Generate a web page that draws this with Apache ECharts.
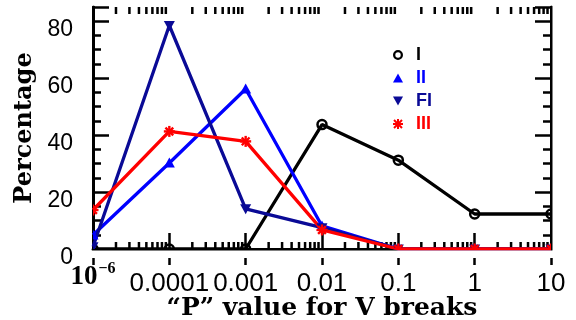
<!DOCTYPE html>
<html><head><meta charset="utf-8">
<script src="https://cdn.jsdelivr.net/npm/echarts@6/dist/echarts.min.js"></script>
<style>html,body{margin:0;padding:0;background:#fff}#c{width:576px;height:320px}</style>
</head><body><div id="c"></div>
<script>
const categories = ['1e-6', '0.0001', '0.001', '0.01', '0.1', '1', '10'];
const tickLabels = ['10^-6', '0.0001', '0.001', '0.01', '0.1', '1', '10'];
const yTicks = [0, 20, 40, 60, 80];
const seriesNames = ['I', 'II', 'FI', 'III'];
const seriesI = [0, 0, 0, 43.7, 31.2, 12.3, 12.3];
const seriesII = [4.9, 30.2, 56.2, 8.1, 0, 0, 0];
const seriesFI = [0.8, 78.5, 14.1, 7.5, 0, 0, 0];
const seriesIII = [13.7, 41.3, 37.8, 6.7, 0, 0, 0];
const colors = ['#000000', '#0000ff', '#0a0a96', '#ff0000'];
const YMAX = 85;

const allData = [seriesI, seriesII, seriesFI, seriesIII];
const shapes = ['circle', 'up', 'down', 'star'];
const legendIcons = [
  'path://M5,0A5,5 0 1,1 4.99,0Z M5,2.3A2.7,2.7 0 1,0 5.01,2.3Z',
  'path://M5,0L10,9L0,9Z',
  'path://M0,0L10,0L5,9Z',
  'path://M0,4L10,4L10,6L0,6Z M4,0L6,0L6,10L4,10Z M1.7,0.3L9.7,8.3L8.3,9.7L0.3,1.7Z M8.3,0.3L9.7,1.7L1.7,9.7L0.3,8.3Z'];

// minor (log) tick positions within each decade between category points
const minorX = [];
for (let i = 0; i < categories.length - 1; i++) {
  for (let k = 2; k <= 9; k++) minorX.push([i + Math.log10(k)]);
}

const chart = echarts.init(document.getElementById('c'), null, {renderer: 'canvas'});

function markerItem(shape, color) {
  return function (params, api) {
    const p = api.coord([api.value(0), api.value(1)]);
    const x = p[0], y = p[1];
    if (shape === 'circle') {
      return {type: 'circle', shape: {cx: x, cy: y, r: 4.5},
        style: {fill: 'none', stroke: color, lineWidth: 2.5}};
    }
    if (shape === 'up') {
      return {type: 'polygon', shape: {points: [[x, y - 5.5], [x + 5.5, y + 4.5], [x - 5.5, y + 4.5]]},
        style: {fill: color}};
    }
    if (shape === 'down') {
      return {type: 'polygon', shape: {points: [[x, y + 5.5], [x + 5.5, y - 4.5], [x - 5.5, y - 4.5]]},
        style: {fill: color}};
    }
    const r = 5.5, lines = [];
    for (let a = 0; a < 4; a++) {
      const t = a * Math.PI / 4;
      lines.push({type: 'line', shape: {x1: x - r * Math.cos(t), y1: y - r * Math.sin(t), x2: x + r * Math.cos(t), y2: y + r * Math.sin(t)},
        style: {stroke: color, lineWidth: 2.4}});
    }
    return {type: 'group', children: lines};
  };
}

const series = [];
seriesNames.forEach((n, si) => {
  series.push({
    name: n, type: 'line', xAxisIndex: 0, yAxisIndex: 0,
    data: allData[si].map((v, i) => [i, v]),
    symbol: 'none', lineStyle: {color: colors[si], width: 3.3},
    itemStyle: {color: colors[si]}, z: 2 + si, animation: false
  });
});
seriesNames.forEach((n, si) => {
  series.push({
    name: n, type: 'custom', xAxisIndex: 0, yAxisIndex: 0, clip: true,
    data: allData[si].map((v, i) => [i, v]),
    renderItem: markerItem(shapes[si], colors[si]),
    itemStyle: {color: colors[si]}, z: 10 + si, animation: false
  });
});
// minor log ticks on bottom and top frame
series.push({
  type: 'custom', xAxisIndex: 0, yAxisIndex: 0, clip: false, silent: true,
  data: minorX, encode: {x: 0}, z: 1, animation: false,
  renderItem: function (params, api) {
    const b = api.coord([api.value(0), 0]);
    const t = api.coord([api.value(0), YMAX]);
    return {type: 'group', children: [
      {type: 'line', shape: {x1: b[0], y1: b[1], x2: b[0], y2: b[1] - 7}, style: {stroke: '#000', lineWidth: 2.5}},
      {type: 'line', shape: {x1: t[0], y1: t[1], x2: t[0], y2: t[1] + 7}, style: {stroke: '#000', lineWidth: 2.5}}
    ]};
  }
});
// mask marker parts lying outside the plot frame
series.push({
  type: 'custom', xAxisIndex: 0, yAxisIndex: 0, clip: false, silent: true,
  data: [[0]], encode: {x: 0}, z: 30, animation: false,
  renderItem: function (params, api) {
    const cs = params.coordSys;
    const w = 1.5, m = 9;
    const st = {fill: '#fff'};
    return {type: 'group', children: [
      {type: 'rect', shape: {x: cs.x - m, y: cs.y + cs.height + w, width: cs.width + 2 * m, height: m - w}, style: st},
      {type: 'rect', shape: {x: cs.x - m, y: cs.y - m, width: cs.width + 2 * m, height: m - w}, style: st},
      {type: 'rect', shape: {x: cs.x - m, y: cs.y - m, width: m - w, height: cs.height + 2 * m}, style: st},
      {type: 'rect', shape: {x: cs.x + cs.width + w, y: cs.y - m, width: m - w, height: cs.height + 2 * m}, style: st}
    ]};
  }
});

const axisLine = {show: true, lineStyle: {color: '#000', width: 3}};
const yBase = {type: 'value', min: 0, max: YMAX, splitLine: {show: false}, axisLine: axisLine};

chart.setOption({
  animation: false,
  backgroundColor: '#fff',
  grid: {left: 93, right: 25, top: 7, bottom: 71, containLabel: false, outerBoundsMode: 'none'},
  legend: {
    orient: 'vertical', left: 388, top: 41, itemWidth: 10, itemHeight: 10, itemGap: 5, z: 40,
    textStyle: {fontFamily: 'Liberation Sans', fontWeight: 'bold', fontSize: 18, lineHeight: 18, padding: [0, 0, 0, 8]},
    data: seriesNames.map((n, i) => ({
      name: n, icon: legendIcons[i],
      itemStyle: {color: colors[i], borderWidth: 0},
      textStyle: {color: colors[i]}
    }))
  },
  xAxis: [
    {type: 'value', position: 'bottom', min: 0, max: categories.length - 1, interval: 1,
      splitLine: {show: false}, axisLine: axisLine,
      axisTick: {inside: true, length: 16, lineStyle: {width: 2.5, color: '#000'}},
      axisLabel: {margin: 12, color: '#000', fontFamily: 'Liberation Sans', fontSize: 26,
        formatter: function (v) {
          const lab = tickLabels[Math.round(v)];
          if (lab === '10^-6') return '{b|10}{s|−6}';
          return '{n|' + lab + '}';
        },
        rich: {
          n: {fontFamily: 'Liberation Sans', fontSize: 26, color: '#000', padding: [10, 0, 0, 0]},
          b: {fontFamily: 'Liberation Serif', fontWeight: 'bold', fontSize: 27, lineHeight: 22, color: '#000',
            verticalAlign: 'top', padding: [3, 0, 0, 0]},
          s: {fontFamily: 'Liberation Serif', fontWeight: 'bold', fontSize: 16, lineHeight: 16, color: '#000',
            verticalAlign: 'top', padding: [0, 0, 0, 1]}
        }},
      name: '“P” value for V breaks', nameLocation: 'middle', nameGap: 47, nameMoveOverlap: false,
      nameTextStyle: {fontFamily: 'DejaVu Serif', fontWeight: 'bold', fontSize: 25, color: '#000'}
    },
    {type: 'value', position: 'top', min: 0, max: categories.length - 1, interval: 1,
      splitLine: {show: false}, axisLine: axisLine, axisLabel: {show: false},
      axisTick: {inside: true, length: 16, lineStyle: {width: 2.5, color: '#000'}}}
  ],
  yAxis: [
    Object.assign({}, yBase, {position: 'left', interval: 20,
      axisTick: {inside: true, length: 16, lineStyle: {width: 2.5, color: '#000'}},
      axisLabel: {margin: 20, color: '#000', fontFamily: 'Liberation Sans', fontSize: 23,
        verticalAlign: 'top', lineHeight: 17,
        formatter: v => (yTicks.indexOf(v) >= 0 ? String(v) : '')},
      name: 'Percentage', nameLocation: 'middle', nameGap: 56, nameRotate: 90, nameMoveOverlap: false,
      nameTextStyle: {fontFamily: 'DejaVu Serif', fontWeight: 'bold', fontSize: 24, color: '#000'}}),
    Object.assign({}, yBase, {position: 'left', interval: 5, axisLabel: {show: false},
      axisTick: {inside: true, length: 8, lineStyle: {width: 2.5, color: '#000'}}}),
    Object.assign({}, yBase, {position: 'right', interval: 20, axisLabel: {show: false},
      axisTick: {inside: true, length: 16, lineStyle: {width: 2.5, color: '#000'}}}),
    Object.assign({}, yBase, {position: 'right', interval: 5, axisLabel: {show: false},
      axisTick: {inside: true, length: 8, lineStyle: {width: 2.5, color: '#000'}}})
  ],
  series: series
});
</script></body></html>
